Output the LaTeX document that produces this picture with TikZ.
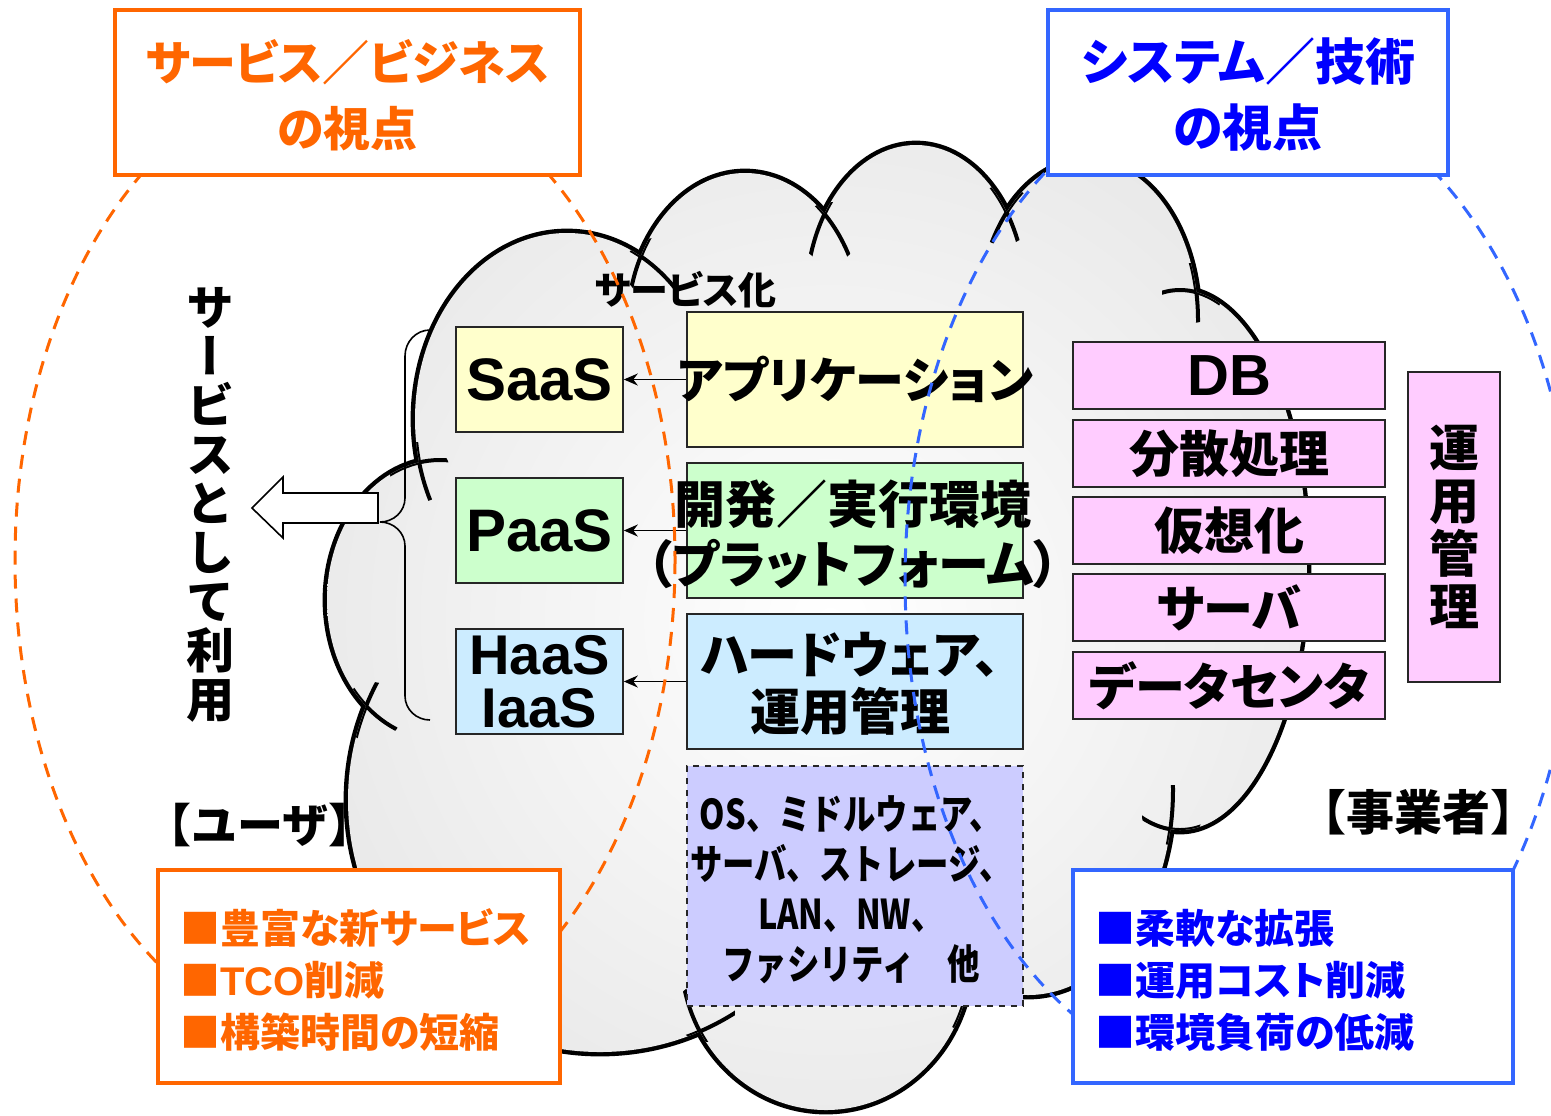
\documentclass[tikz,border=0pt]{standalone}
\usepackage{fontspec}
\setmainfont{Noto Sans CJK JP}[RawFeature=+palt]
\newfontfamily\jpv{Noto Sans CJK JP}[RawFeature=+vert]
\newfontfamily\jpn{Noto Sans CJK JP}
\newfontfamily\jpc{Noto Sans CJK JP}[FakeStretch=0.79]
\newfontfamily\lat{Liberation Sans}
\usetikzlibrary{arrows.meta}
\newcommand\myfs[2]{\fontsize{#1pt}{#2pt}\selectfont}
\definecolor{org}{HTML}{FF6600}
\definecolor{blu}{HTML}{0000FF}
\definecolor{blb}{HTML}{3366FF}
\definecolor{yel}{HTML}{FFFFCC}
\definecolor{grn}{HTML}{CCFFCC}
\definecolor{lbl}{HTML}{CCECFF}
\definecolor{lav}{HTML}{CCCCFF}
\definecolor{pnk}{HTML}{FFCCFF}
\begin{document}
\begin{tikzpicture}[x=0.5pt,y=-0.5pt,
  box/.style={draw=black!85, line width=0.8pt, inner sep=0pt},
  sbox/.style={box, minimum width=83.5pt, minimum height=52.5pt},
  lbox/.style={box, minimum width=168pt, minimum height=67.5pt},
  pbox/.style={box, fill=pnk, minimum width=156pt, minimum height=33.5pt},
  lat/.style={font=\lat\bfseries\myfs{30}{30}},
  jt/.style={font=\bfseries\myfs{25}{29}, align=center, inner sep=0pt},
  conn/.style={line width=0.9pt, -{Stealth[length=7pt,width=6pt]}},
  obox/.style={draw=org, line width=2pt, fill=white, inner sep=0pt},
  bbox/.style={draw=blb, line width=2pt, fill=white, inner sep=0pt},
  cloudline/.style={line width=4.4pt, black}
]
\fill[white] (0,0) rectangle (1551,1115);
\useasboundingbox (0,0) rectangle (1551,1115);
% cloud
\def\lobes{567/419/152/186, 745/330/118/157, 916/300/110/155, 1088/320/110/160, 1180/560/127/270, 1028/790/145/205, 826/955/145/155, 600/800/252/252, 440/600/113/140}
\foreach \cx/\cy/\rx/\ry in \lobes {\draw[cloudline] (\cx,\cy) ellipse [x radius=\rx, y radius=\ry];}
\begin{scope}
\clip (820,580) ellipse [x radius=380, y radius=300] \foreach \cx/\cy/\rx/\ry in \lobes {(\cx,\cy) ellipse [x radius=\rx, y radius=\ry]};
\shade[inner color=white, outer color=black!15] (830,620) circle [radius=950];
% short inner arc ends where the lobes meet
\foreach \jx/\jy in {655/268, 830/232, 1003/215, 1192/293, 1172/815, 965/1000, 705/1012, 372/712, 420/472}{
  \begin{scope}
  \clip (\jx,\jy) circle [radius=30];
  \foreach \cx/\cy/\rx/\ry in \lobes {\draw[line width=2pt] (\cx,\cy) ellipse [x radius=\rx, y radius=\ry];}
  \end{scope}
}
\end{scope}
% brace and block arrow
\draw[line width=0.8pt] (430,330) to[out=180,in=90] (405,356) -- (405,498) to[out=-90,in=0] (380,522) to[out=0,in=90] (405,546) -- (405,696) to[out=-90,in=180] (430,720);
\draw[line width=0.8pt, fill=white] (378,493) -- (283,493) -- (283,477) -- (252,508) -- (283,538) -- (283,523) -- (378,523) -- cycle;
\node[align=center, inner sep=0pt, font=\jpv\bfseries\myfs{24}{24.5}] (use) at (210,505) {サ\\ー\\ビ\\ス\\と\\し\\て\\利\\用};
% left column
\node[sbox, fill=yel] (saas) at (539.5,379.5) {};
\node[lat] (saasT) at (saas) {SaaS};
\node[sbox, fill=grn] (paas) at (539.5,530.5) {};
\node[lat] (paasT) at (paas) {PaaS};
\node[sbox, fill=lbl] (iaas) at (539.5,681.5) {};
\node[lat, font=\lat\bfseries\myfs{28}{26.5}, align=center] (iaasT) at (iaas) {HaaS\\IaaS};
% middle column
\node[font=\bfseries\myfs{19}{19}] (svc) at (686,290) {サービス化};
\node[lbox, fill=yel] (app) at (855,379.5) {};
\node[jt, font=\bfseries\myfs{24.5}{29}] (appT) at (app) {アプリケーション};
\node[lbox, fill=grn] (dev) at (855,530.5) {};
\node[jt, font=\bfseries\myfs{25.5}{30}] (devT) at (853,534) {開発／実行環境\\（プラットフォーム）};
\node[lbox, fill=lbl] (hw) at (855,681.5) {};
\node[jt, font=\bfseries\myfs{25}{28.5}] (hwT) at (850,684) {ハードウェア、\\運用管理};
\node[box, fill=lav, dashed, minimum width=168pt, minimum height=120pt] (oth) at (855,886) {};
\node[jt, font=\jpc\bfseries\myfs{20.5}{25}] (othT) at (851,890) {OS、ミドルウェア、\\サーバ、ストレージ、\\LAN、NW、\\ファシリティ　他};
\draw[conn] (app.west) -- (saas.east);
\draw[conn] (dev.west) -- (paas.east);
\draw[conn] (hw.west) -- (iaas.east);
% right column
\node[pbox] (db) at (1229,375.5) {};
\node[lat, font=\lat\bfseries\myfs{29}{29}] (dbT) at (db) {DB};
\node[pbox] (dist) at (1229,453.5) {};
\node[jt] (distT) at (dist) {分散処理};
\node[pbox] (virt) at (1229,530.5) {};
\node[jt] (virtT) at (virt) {仮想化};
\node[pbox] (srv) at (1229,607.5) {};
\node[jt] (srvT) at (srv) {サーバ};
\node[pbox] (dc) at (1229,685.5) {};
\node[jt] (dcT) at (dc) {データセンタ};
\node[box, fill=pnk, minimum width=46pt, minimum height=155pt] (ops) at (1454,527) {};
\node[jt, font=\bfseries\myfs{25}{26.5}] (opsT) at (ops) {運\\用\\管\\理};
% viewpoint ellipses
\draw[org, line width=1.5pt, dash pattern=on 7pt off 5pt] (345,560) ellipse [x radius=330, y radius=490];
\draw[blb, line width=1.5pt, dash pattern=on 7pt off 5pt] (1240,580) ellipse [x radius=335, y radius=501];
% titles
\node[obox, minimum width=232.5pt, minimum height=82.5pt] (otitle) at (347.5,92.5) {};
\node[jt, text=org, font=\bfseries\myfs{23.5}{33}] (otitleT) at (347.5,95) {サービス／ビジネス\\の視点};
\node[bbox, minimum width=200pt, minimum height=82.5pt] (btitle) at (1248,92.5) {};
\node[jt, text=blu, font=\bfseries\myfs{25}{33}] (btitleT) at (1248,95) {システム／技術\\の視点};
% actors
\node[font=\jpn\bfseries\myfs{23}{23}, inner sep=0pt] (user) at (260,825) {【ユーザ】};
\node[font=\jpn\bfseries\myfs{24}{24}, inner sep=0pt] (prov) at (1418,812) {【事業者】};
% benefit boxes
\node[obox, minimum width=201pt, minimum height=106.5pt] (obene) at (359,976.5) {};
\node[anchor=west, align=left, text=org, inner sep=0pt, font=\bfseries\myfs{20}{26}] (obeneT) at (180,980) {■豊富な新サービス\\■{\lat TCO}削減\\■構築時間の短縮};
\node[bbox, minimum width=220pt, minimum height=106.5pt] (bbene) at (1293,976.5) {};
\node[anchor=west, align=left, text=blu, inner sep=0pt, font=\bfseries\myfs{20}{26}] (bbeneT) at (1095,980) {■柔軟な拡張\\■運用コスト削減\\■環境負荷の低減};
\end{tikzpicture}
\end{document}
